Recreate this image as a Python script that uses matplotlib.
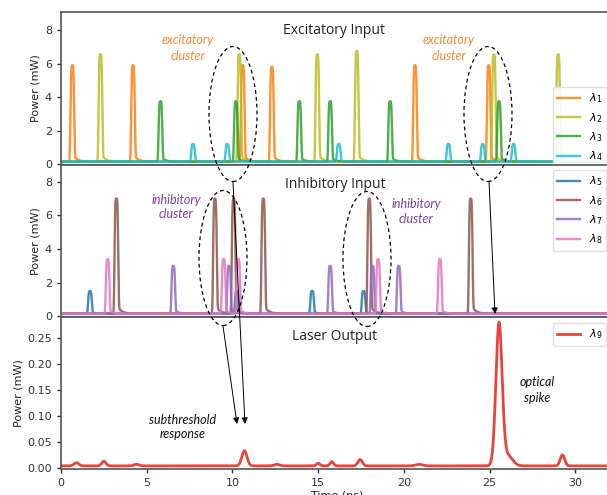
import numpy as np
import matplotlib
matplotlib.use("Agg")
import matplotlib.pyplot as plt
from matplotlib.patches import Ellipse, FancyArrowPatch

# ---------------- data ----------------
# Excitatory input pulses: times (ns) and peak powers (mW)
exc_labels = [r"$\lambda_1$", r"$\lambda_2$", r"$\lambda_3$", r"$\lambda_4$"]
l1_times = [0.66, 4.2, 10.6, 12.3, 20.65, 24.95]
l1_peaks = [5.9, 5.9, 5.9, 5.8, 5.9, 5.9]
l2_times = [2.3, 10.4, 14.95, 17.25, 25.25, 29.0]
l2_peaks = [6.55, 6.55, 6.55, 6.75, 6.55, 6.55]
l3_times = [5.8, 10.2, 13.9, 15.7, 19.2, 25.55]
l3_peaks = [3.75, 3.75, 3.75, 3.75, 3.75, 3.75]
l4_times = [7.7, 9.7, 16.2, 22.6, 24.6, 26.4]
l4_peaks = [1.2, 1.2, 1.2, 1.2, 1.2, 1.2]

# Inhibitory input pulses
inh_labels = [r"$\lambda_5$", r"$\lambda_6$", r"$\lambda_7$", r"$\lambda_8$"]
l5_times = [1.69, 10.25, 14.65, 17.65]
l5_peaks = [1.5, 1.5, 1.5, 1.5]
l6_times = [3.23, 8.98, 10.07, 11.8, 17.98, 23.9]
l6_peaks = [7.0, 7.0, 7.0, 7.0, 7.0, 7.0]
l7_times = [6.55, 9.8, 15.7, 18.17, 19.7]
l7_peaks = [3.0, 3.0, 3.0, 3.0, 3.0]
l8_times = [2.72, 9.49, 10.34, 18.5, 22.1]
l8_peaks = [3.4, 3.4, 3.4, 3.4, 3.4]

# Laser output: response bumps (time, height above baseline, width)
out_label = r"$\lambda_9$"
out_times = [0.9, 2.5, 4.4, 10.7, 12.6, 15.0, 15.8, 17.45, 20.9, 25.55, 26.05, 29.25]
out_heights = [0.006, 0.009, 0.003, 0.029, 0.003, 0.005, 0.008, 0.012, 0.003, 0.272, 0.02, 0.021]
out_widths = [0.14, 0.12, 0.15, 0.15, 0.15, 0.1, 0.1, 0.13, 0.2, 0.18, 0.28, 0.13]
out_base = 0.004
in_base = 0.15

x_ticks = [0, 5, 10, 15, 20, 25, 30]
in_yticks = [0, 2, 4, 6, 8]
out_yticks = [0.00, 0.05, 0.10, 0.15, 0.20, 0.25]

# ---------------- figure ----------------
W, H = 607, 495
fig = plt.figure(figsize=(W / 100, H / 100), dpi=100)

def fx(x):
    return x / W

def fy(y):
    return 1 - y / H

t = np.linspace(0, 32.5, 8000)

def pulse_train(times, peaks):
    y = np.full_like(t, in_base)
    for t0, p in zip(times, peaks):
        d = t - t0
        core = np.exp(-(d / 0.12) ** 4)
        tail = np.where(d > 0, 0.09 * np.exp(-d / 0.22), 0.0) * (1 - core)
        y += (p - in_base) * core + p * tail
    return y

def response(times, heights, widths):
    y = np.full_like(t, out_base)
    for t0, h, w in zip(times, heights, widths):
        y += h * np.exp(-0.5 * ((t - t0) / w) ** 2)
    return y

left = fx(61)
width = (613 - 61) / W
ax1 = fig.add_axes([left, fy(165), width, (165 - 12) / H])
ax2 = fig.add_axes([left, fy(317), width, (317 - 165) / H], sharex=ax1)
ax3 = fig.add_axes([left, fy(469), width, (469 - 317) / H], sharex=ax1)

lw = 1.7
exc_series = [(l1_times, l1_peaks, "tab:orange"), (l2_times, l2_peaks, "tab:olive"),
              (l3_times, l3_peaks, "tab:green"), (l4_times, l4_peaks, "tab:cyan")]
for (tt, pp, c), lab in zip(exc_series, exc_labels):
    ax1.plot(t, pulse_train(tt, pp), color=c, lw=lw, alpha=0.85, label=lab)

inh_series = [(l5_times, l5_peaks, "tab:blue"), (l6_times, l6_peaks, "tab:brown"),
              (l7_times, l7_peaks, "tab:purple"), (l8_times, l8_peaks, "tab:pink")]
for (tt, pp, c), lab in zip(inh_series, inh_labels):
    ax2.plot(t, pulse_train(tt, pp), color=c, lw=lw, alpha=0.85, label=lab)

ax3.plot(t, response(out_times, out_heights, out_widths), color="#e5231b", lw=2.0,
         alpha=0.85, label=out_label)

ax1.set_xlim(0, 32.2)
ax1.set_ylim(-0.05, 9.07)
ax2.set_ylim(-0.05, 9.0)
ax3.set_ylim(-0.002, 0.29)
ax1.set_yticks(in_yticks)
ax2.set_yticks(in_yticks)
ax3.set_yticks(out_yticks)
ax3.set_yticklabels([f"{v:.2f}" for v in out_yticks])
ax3.set_xticks(x_ticks)

for ax in (ax1, ax2, ax3):
    for s in ax.spines.values():
        s.set_color("#555555")
        s.set_linewidth(1.2)
    ax.tick_params(labelsize=8, colors="#333333", length=3, width=1)
    ax.set_ylabel("Power (mW)", fontsize=8, color="#222222", labelpad=3)
for ax in (ax1, ax2):
    ax.tick_params(axis="x", bottom=False, labelbottom=False)
ax3.set_xlabel("Time (ns)", fontsize=8, color="#222222", labelpad=2)

leg_kw = dict(fontsize=8, loc="upper left", bbox_transform=fig.transFigure,
              borderaxespad=0, framealpha=0.9, edgecolor="#dddddd", fancybox=True)
ax1.legend(bbox_to_anchor=(fx(553), fy(87)), **leg_kw)
ax2.legend(bbox_to_anchor=(fx(553), fy(170)), **leg_kw)
ax3.legend(bbox_to_anchor=(fx(553), fy(323)), **leg_kw)

title_kw = dict(fontsize=10, family=["Open Sans", "DejaVu Sans"], color="#222222",
                ha="center", va="center")
fig.text(fx(334), fy(30), "Excitatory Input", **title_kw)
fig.text(fx(335), fy(184), "Inhibitory Input", **title_kw)
fig.text(fx(335), fy(336), "Laser Output", **title_kw)

ann_kw = dict(fontsize=9, family=["Lato", "DejaVu Sans"], style="italic",
              ha="center", va="center", linespacing=1.3)
fig.text(fx(188), fy(48), "excitatory\ncluster", color="#f28a30", **ann_kw)
fig.text(fx(449), fy(48), "excitatory\ncluster", color="#f28a30", **ann_kw)
fig.text(fx(176), fy(207), "inhibitory\ncluster", color="#7b3fa0", **ann_kw)
fig.text(fx(416), fy(211), "inhibitory\ncluster", color="#7b3fa0", **ann_kw)
fig.text(fx(183), fy(427), "subthreshold\nresponse", color="#111111", **ann_kw)
fig.text(fx(537), fy(390), "optical\nspike", color="#111111", **ann_kw)

# dashed ellipses around clusters
for cx, cy in [(233, 114), (488, 114), (223, 258), (367, 259)]:
    e = Ellipse((fx(cx), fy(cy)), 48 / W, 135 / H, transform=fig.transFigure,
                fill=False, ls=(0, (3, 2.5)), lw=0.9, color="black")
    fig.add_artist(e)

# arrows from clusters to responses
for (x0, y0), (x1, y1) in [((233, 182), (245, 424)), ((223, 326), (237, 424)),
                           ((489, 181), (495, 314))]:
    a = FancyArrowPatch((fx(x0), fy(y0)), (fx(x1), fy(y1)), transform=fig.transFigure,
                        arrowstyle="-|>", mutation_scale=9, lw=0.7, color="black",
                        shrinkA=0, shrinkB=0)
    fig.add_artist(a)

fig.savefig("out.png", dpi=100)
